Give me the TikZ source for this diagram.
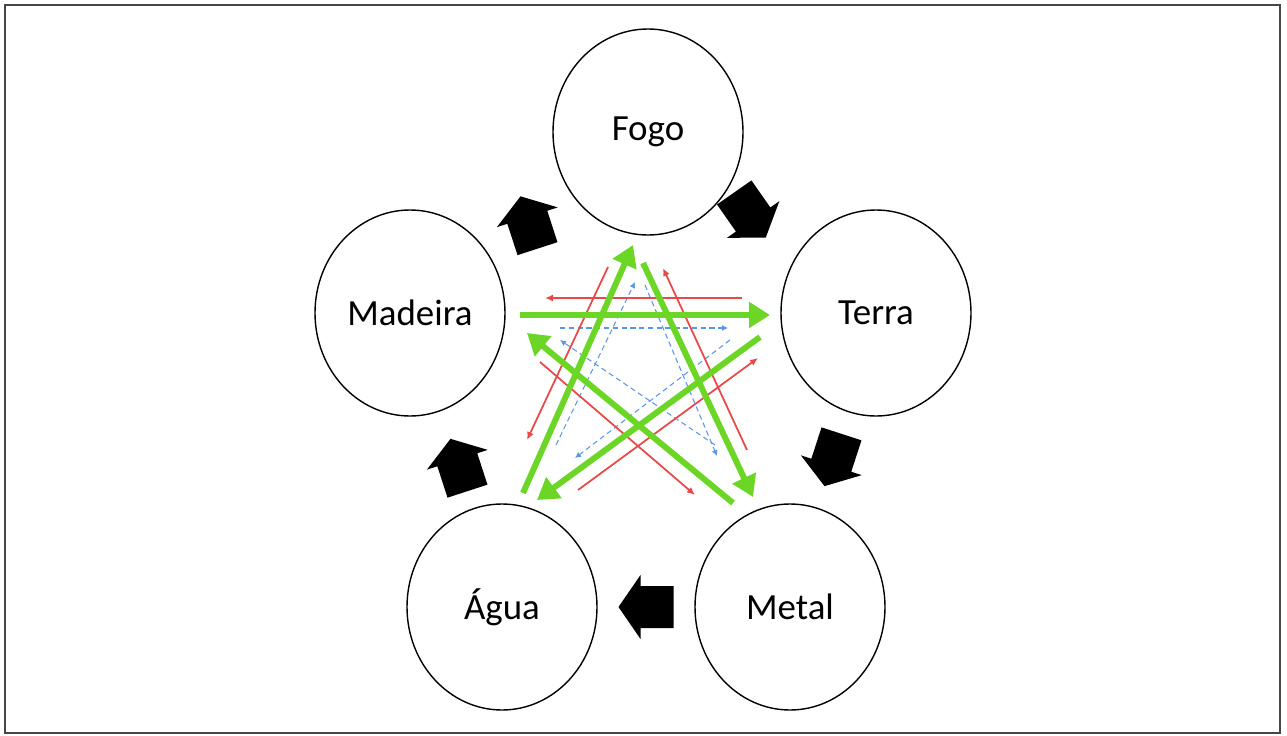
\documentclass[tikz,border=0pt]{standalone}
\usepackage{fontspec}
\setmainfont{Carlito}
\usetikzlibrary{shapes.geometric, arrows.meta, calc}
\definecolor{ctrlgreen}{RGB}{108,214,38}
\definecolor{redline}{RGB}{232,72,72}
\definecolor{blueline}{RGB}{90,150,230}
\definecolor{framegray}{RGB}{70,70,70}
\tikzset{
  element/.style={ellipse, draw, line width=0.8pt, minimum width=3.8cm, minimum height=4.12cm, inner sep=0pt, font=\fontsize{21}{25}\selectfont},
  greenarr/.style={draw=ctrlgreen, line width=3.4pt, -{Triangle[length=0.42cm,width=0.5cm]}},
  redarr/.style={draw=redline, line width=1pt, -{Latex[length=0.16cm,width=0.14cm]}},
  bluearr/.style={draw=blueline, line width=0.6pt, dash pattern=on 3pt off 2pt, -{Latex[length=0.12cm,width=0.12cm]}},
  blockarrow/.pic={\fill (-0.55,-0.42) -- (0.11,-0.42) -- (0.11,-0.64) -- (0.55,0) -- (0.11,0.64) -- (0.11,0.42) -- (-0.55,0.42) -- cycle;}
}
\begin{document}
\begin{tikzpicture}
	\useasboundingbox (0,0) rectangle (25.74,-14.72);
	\draw[framegray, line width=1.4pt] (0.1,-0.1) rectangle (25.6,-14.66);
	% Elements:
	\node[element] (fogo) at (12.96,-2.64) {Fogo};
	\node[element] (terra) at (17.52,-6.26) {Terra};
	\node[element] (madeira) at (8.20,-6.26) {Madeira};
	\node[element] (agua) at (10.04,-12.14) {Água};
	\node[element] (metal) at (15.80,-12.14) {Metal};
	% Block arrows round the circle:
	\pic[rotate=108] at ($(madeira)!0.5!(fogo)$) {blockarrow};
	\pic[rotate=-55] at ($(fogo)!0.5!(terra)+(-0.24,0.15)$) {blockarrow};
	\pic[rotate=-108] at ($(terra)!0.5!(metal)$) {blockarrow};
	\pic[rotate=180] at ($(metal)!0.5!(agua)$) {blockarrow};
	\pic[rotate=108] at ($(agua)!0.5!(madeira)+(0.06,-0.1)$) {blockarrow};
	% Blue star:
	\draw[bluearr] ([shift={(3.0,-0.30)}]madeira.center) -- ([shift={(-2.96,-0.30)}]terra.center);
	\draw[bluearr] ([shift={(-2.92,-0.54)}]terra.center) -- ([shift={(1.46,2.98)}]agua.center);
	\draw[bluearr] ([shift={(1.08,3.24)}]agua.center) -- ([shift={(-0.26,-3.0)}]fogo.center);
	\draw[bluearr] ([shift={(-0.06,-3.06)}]fogo.center) -- ([shift={(-1.46,3.02)}]metal.center);
	\draw[bluearr] ([shift={(-1.50,3.24)}]metal.center) -- ([shift={(3.0,-0.54)}]madeira.center);
	% Red star:
	\draw[redarr] ([shift={(-2.68,0.30)}]terra.center) -- ([shift={(2.70,0.30)}]madeira.center);
	\draw[redarr] ([shift={(-0.80,-2.70)}]fogo.center) -- ([shift={(0.50,3.34)}]agua.center);
	\draw[redarr] ([shift={(-0.86,3.14)}]metal.center) -- ([shift={(0.30,-2.72)}]fogo.center);
	\draw[redarr] ([shift={(2.60,-0.98)}]madeira.center) -- ([shift={(-1.90,2.24)}]metal.center);
	\draw[redarr] ([shift={(1.52,2.34)}]agua.center) -- ([shift={(-2.36,-0.90)}]terra.center);
	% Green star:
	\draw[greenarr] ([shift={(2.2,-0.04)}]madeira.center) -- ([shift={(-2.12,-0.04)}]terra.center);
	\draw[greenarr] ([shift={(-2.32,-0.48)}]terra.center) -- ([shift={(0.70,2.14)}]agua.center);
	\draw[greenarr] ([shift={(0.42,2.28)}]agua.center) -- ([shift={(-0.30,-2.26)}]fogo.center);
	\draw[greenarr] ([shift={(-0.10,-2.62)}]fogo.center) -- ([shift={(-0.74,2.20)}]metal.center);
	\draw[greenarr] ([shift={(-1.14,2.08)}]metal.center) -- ([shift={(2.34,-0.40)}]madeira.center);
\end{tikzpicture}
\end{document}
